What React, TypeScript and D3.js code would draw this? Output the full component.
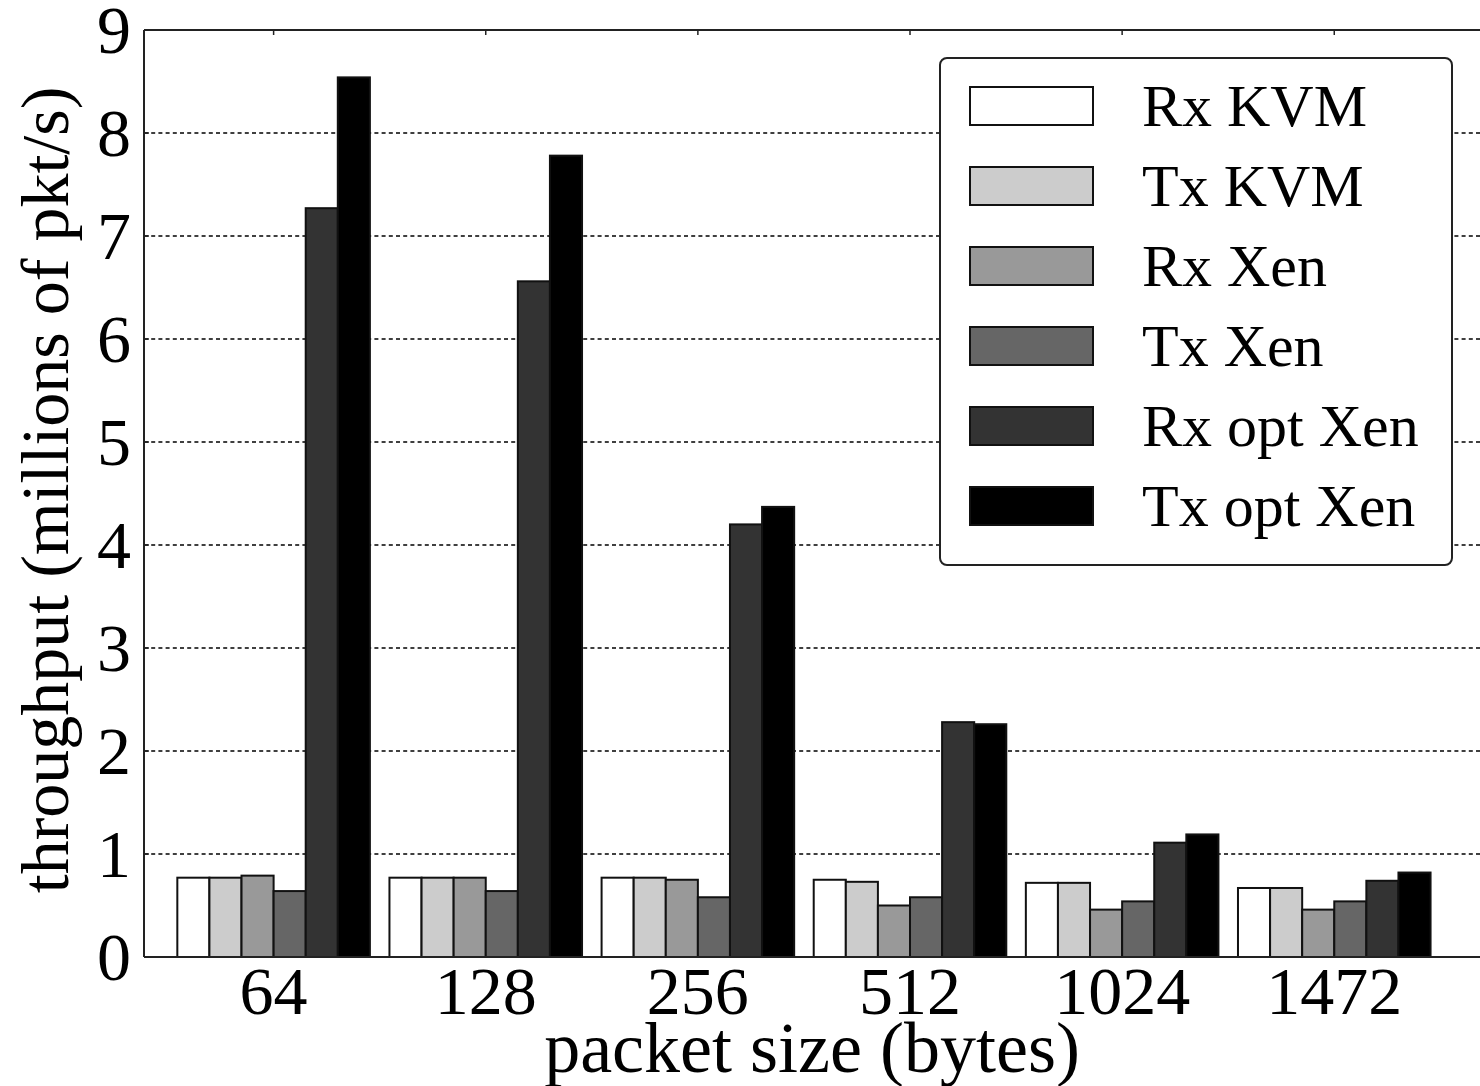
import * as d3 from "d3";

// packet sizes on the x axis
const packetSizes = ["64", "128", "256", "512", "1024", "1472"];

// series (millions of pkt/s)
const seriesNames = ["Rx KVM", "Tx KVM", "Rx Xen", "Tx Xen", "Rx opt Xen", "Tx opt Xen"];
const rxKvm = [0.77, 0.77, 0.77, 0.75, 0.72, 0.67];
const txKvm = [0.77, 0.77, 0.77, 0.73, 0.72, 0.67];
const rxXen = [0.79, 0.77, 0.75, 0.5, 0.46, 0.46];
const txXen = [0.64, 0.64, 0.58, 0.58, 0.54, 0.54];
const rxOptXen = [7.27, 6.56, 4.2, 2.28, 1.11, 0.74];
const txOptXen = [8.54, 7.78, 4.37, 2.26, 1.19, 0.82];
const seriesValues = [rxKvm, txKvm, rxXen, txXen, rxOptXen, txOptXen];
const seriesFills = ["#ffffff", "#cccccc", "#999999", "#666666", "#333333", "#000000"];

const yTicks = [0, 1, 2, 3, 4, 5, 6, 7, 8, 9];

const W = 1480;
const H = 1086;
const left = 144;
const top = 30;
const bottom = 957;
const barW = 0.1513; // bar width in category units
const FONT = "'Liberation Serif', 'Times New Roman', serif";

export default function App() {
  const x = d3.scaleLinear().domain([-0.611, 5.687]).range([left, W]);
  const y = d3.scaleLinear().domain([0, 9]).range([bottom, top]);
  const n = seriesNames.length;

  return (
    <svg
      width={W}
      height={H}
      style={{ position: "absolute", left: 0, top: 0, background: "#fff" }}
      fontFamily={FONT}
    >
      {/* dashed grid */}
      {yTicks.slice(1, -1).map((t) => (
        <line
          key={"g" + t}
          x1={left}
          x2={W}
          y1={y(t)}
          y2={y(t)}
          stroke="#000"
          strokeWidth={1.4}
          strokeDasharray="4,3.2"
        />
      ))}

      {/* bars */}
      {seriesValues.map((vals, j) =>
        vals.map((v, i) => {
          const x0 = x(i - (n / 2) * barW + j * barW);
          const x1 = x(i - (n / 2) * barW + (j + 1) * barW);
          return (
            <rect
              key={`b${j}-${i}`}
              x={x0}
              y={y(v)}
              width={x1 - x0}
              height={y(0) - y(v)}
              fill={seriesFills[j]}
              stroke="#111"
              strokeWidth={2}
            />
          );
        })
      )}

      {/* axes frame */}
      <line x1={left} x2={W} y1={top} y2={top} stroke="#222" strokeWidth={2} />
      <line x1={left} x2={W} y1={bottom} y2={bottom} stroke="#222" strokeWidth={2} />
      <line x1={left} x2={left} y1={top} y2={bottom} stroke="#222" strokeWidth={2} />

      {/* y ticks */}
      {yTicks.map((t) => (
        <g key={"y" + t}>
          <line x1={left} x2={left + 5} y1={y(t)} y2={y(t)} stroke="#222" strokeWidth={1.5} />
          <text
            x={131}
            y={y(t)}
            dy="0.34em"
            textAnchor="end"
            fontSize={68}
            fill="#000"
          >
            {t}
          </text>
        </g>
      ))}

      {/* x ticks */}
      {packetSizes.map((s, i) => (
        <g key={"x" + s}>
          <line x1={x(i)} x2={x(i)} y1={top} y2={top + 5} stroke="#222" strokeWidth={1.5} />
          <text x={x(i)} y={1014} textAnchor="middle" fontSize={68} fill="#000">
            {s}
          </text>
        </g>
      ))}

      {/* axis titles */}
      <text x={812} y={1072} textAnchor="middle" fontSize={72} fill="#000">
        packet size (bytes)
      </text>
      <text
        transform={`translate(68,490) rotate(-90)`}
        textAnchor="middle"
        fontSize={68}
        fill="#000"
      >
        throughput (millions of pkt/s)
      </text>

      {/* legend */}
      <g>
        <rect
          x={940}
          y={58}
          width={512}
          height={507}
          rx={7}
          fill="#fff"
          stroke="#222"
          strokeWidth={2}
        />
        {seriesNames.map((name, j) => {
          const cy = 106 + j * 80;
          return (
            <g key={"l" + name}>
              <rect
                x={970}
                y={cy - 19}
                width={123}
                height={38}
                fill={seriesFills[j]}
                stroke="#111"
                strokeWidth={2}
              />
              <text x={1142} y={cy + 20} fontSize={60} fill="#000">
                {name}
              </text>
            </g>
          );
        })}
      </g>
    </svg>
  );
}
